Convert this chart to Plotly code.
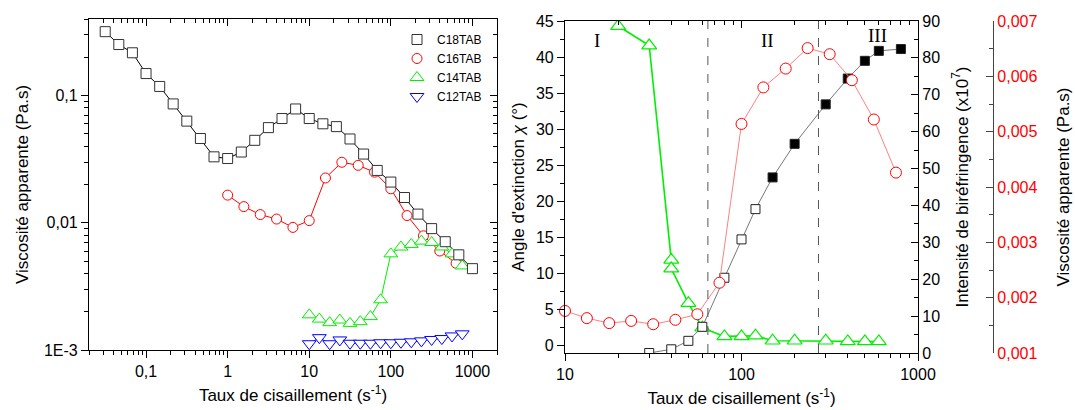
import math
import plotly.graph_objects as go

# ---------------- data: left panel (viscosity vs shear rate) ----------------
c18_x = [0.0316, 0.0464, 0.0681, 0.1, 0.147, 0.215, 0.316, 0.464, 0.681, 1, 1.47, 2.15, 3.16, 4.64,
         6.81, 10, 14.7, 21.5, 31.6, 46.4, 68.1, 100, 147, 215, 316, 464, 681, 1000]
c18_y = [0.318, 0.252, 0.217, 0.149, 0.118, 0.086, 0.063, 0.046, 0.033, 0.032, 0.036, 0.0445, 0.056, 0.066,
         0.0785, 0.066, 0.060, 0.057, 0.0456, 0.0347, 0.0258, 0.0209, 0.0158, 0.0117, 0.009, 0.0071, 0.0056, 0.00436]

c16_x = [1, 1.58, 2.51, 3.98, 6.31, 10, 15.8, 25.1, 39.8, 63.1, 100, 158, 251, 398, 631]
c16_y = [0.0165, 0.0134, 0.0116, 0.0107, 0.0092, 0.0104, 0.0225, 0.0299, 0.0283, 0.025, 0.0185, 0.0114,
         0.0079, 0.006, 0.0048]

c14_x = [10, 13.3, 17.8, 23.7, 31.6, 42.2, 56.2, 75, 100, 133, 178, 237, 316, 422, 562, 750]
c14_y = [0.00189, 0.00175, 0.00164, 0.00172, 0.00162, 0.00167, 0.00183, 0.00248, 0.0057, 0.00645, 0.00676,
         0.00718, 0.0070, 0.00646, 0.0057, 0.00458]

c12_x = [10, 13.3, 17.8, 23.7, 31.6, 42.2, 56.2, 75, 100, 133, 178, 237, 316, 422, 562, 750]
c12_y = [0.00112, 0.00125, 0.00112, 0.0012, 0.00113, 0.00113, 0.00113, 0.00114, 0.00114, 0.00115, 0.00116,
         0.00118, 0.00121, 0.00123, 0.00129, 0.00134]

left_series = ["C18TAB", "C16TAB", "C14TAB", "C12TAB"]
left_xticks = [0.1, 1, 10, 100, 1000]
left_xticktext = ["0,1", "1", "10", "100", "1000"]
left_yticks = [0.001, 0.01, 0.1]
left_yticktext = ["1E-3", "0,01", "0,1"]

# ---------------- data: right panel ----------------
angle_x = [20, 30, 40, 40, 50, 60, 80, 100, 120, 150, 200, 300, 400, 500, 600]
angle_y = [44.3, 41.6, 11.9, 10.7, 5.9, 2.5, 1.3, 1.3, 1.4, 0.7, 0.7, 0.7, 0.6, 0.6, 0.6]

biref_x = [30, 40, 50, 60, 80, 100, 120, 150, 200, 300, 400, 500, 600, 800]
biref_y = [0, 1, 3.3, 7.1, 20.4, 30.8, 39, 47.6, 56.7, 67.4, 74.4, 79.2, 81.9, 82.4]
biref_filled = [False] * 7 + [True] * 7

visc_x = [10, 13.3, 17.8, 23.7, 31.6, 42.2, 56.2, 75, 100, 133, 178, 237, 316, 422, 562, 750]
visc_y = [0.00176, 0.00163, 0.00154, 0.00158, 0.00152, 0.0016, 0.0017, 0.00227, 0.00514, 0.0058, 0.00614,
          0.00651, 0.0064, 0.00593, 0.00522, 0.00426]

right_xticks = [10, 100, 1000]
right_xticktext = ["10", "100", "1000"]
angle_ticks = list(range(0, 50, 5))
biref_ticks = list(range(0, 100, 10))
visc_ticks = [0.001, 0.002, 0.003, 0.004, 0.005, 0.006, 0.007]
visc_ticktext = ["0,001", "0,002", "0,003", "0,004", "0,005", "0,006", "0,007"]

region_bounds = [64.5, 273]
region_labels = ["I", "II", "III"]
region_label_x = [15.2, 140, 587]
region_label_y = [42.3, 42.3, 43.0]

# ---------------- styling ----------------
FONT = "Arial, Liberation Sans, sans-serif"
SERIF = "Times New Roman, Liberation Serif, serif"
BLACK = "#000000"


def minor_log(lo, hi):
    vals = []
    for e in range(-3, 4):
        for k in range(2, 10):
            v = k * 10 ** e
            if lo <= v <= hi:
                vals.append(v)
    return vals


fig = go.Figure()

left_data = [(c18_x, c18_y, "#333333", "square", 10),
             (c16_x, c16_y, "#ff0000", "circle", 10),
             (c14_x, c14_y, "#00ee00", "triangle-up", 12),
             (c12_x, c12_y, "#0000ff", "triangle-down", 12)]
line_cols = ["#000000", "#ff0000", "#00ee00", "#0000ff"]
for (xs, ys, col, sym, sz), lc in zip(left_data, line_cols):
    fig.add_trace(go.Scatter(x=xs, y=ys, mode="lines", line=dict(color=lc, width=1),
                             xaxis="x", yaxis="y", showlegend=False, hoverinfo="skip"))
for i in [1, 2, 3, 0]:
    xs, ys, col, sym, sz = left_data[i]
    fig.add_trace(go.Scatter(x=xs, y=ys, mode="markers", name=left_series[i], legendrank=i + 1,
                             marker=dict(symbol=sym, size=sz, color="white",
                                         line=dict(color=col, width=1)),
                             xaxis="x", yaxis="y"))

# dummy traces so the mirrored (inside-tick) axes are drawn
fig.add_trace(go.Scatter(x=[None], y=[None], xaxis="x3", yaxis="y", showlegend=False, hoverinfo="skip"))
fig.add_trace(go.Scatter(x=[None], y=[None], xaxis="x", yaxis="y3", showlegend=False, hoverinfo="skip"))
fig.add_trace(go.Scatter(x=[None], y=[None], xaxis="x4", yaxis="y2", showlegend=False, hoverinfo="skip"))

fig.add_trace(go.Scatter(x=angle_x, y=angle_y, mode="lines+markers",
                         line=dict(color="#00ee00", width=1.6),
                         marker=dict(symbol="triangle-up", size=13, color="white",
                                     line=dict(color="#00ee00", width=1.2)),
                         xaxis="x2", yaxis="y2", showlegend=False))
fig.add_trace(go.Scatter(x=biref_x, y=biref_y, mode="lines+markers",
                         line=dict(color="#777777", width=1),
                         marker=dict(symbol="square", size=9,
                                     color=[BLACK if f else "white" for f in biref_filled],
                                     line=dict(color="#222222", width=1)),
                         xaxis="x2", yaxis="y4", showlegend=False))
fig.add_trace(go.Scatter(x=visc_x, y=visc_y, mode="lines+markers",
                         line=dict(color="#ff8080", width=1),
                         marker=dict(symbol="circle", size=11, color="white",
                                     line=dict(color="#ff0000", width=1)),
                         xaxis="x2", yaxis="y5", showlegend=False, cliponaxis=False))

axis_common = dict(showline=True, linecolor=BLACK, linewidth=1.2, showgrid=False, zeroline=False,
                   automargin=False, tickcolor=BLACK, tickwidth=1.2,
                   tickfont=dict(family=FONT, size=16, color=BLACK))

L_DOM_X = [89 / 1075, 497 / 1075]
L_DOM_Y = [(410 - 350) / 410, (410 - 19) / 410]
R_DOM_X = [565 / 1075, 918 / 1075]
R_DOM_Y = [(410 - 353) / 410, (410 - 21) / 410]

lx_range = [math.log10(0.02), math.log10(2000)]
ly_range = [-3, math.log10(0.4)]
lx_minor = minor_log(0.02, 2000)
ly_minor = minor_log(0.001, 0.4)

title_font = dict(family=FONT, size=17, color=BLACK)


def mn(vals=None, ticks="outside", color=BLACK, **kw):
    d = dict(ticks=ticks, ticklen=4, tickcolor=color, tickwidth=1.2)
    if vals is not None:
        d.update(tickmode="array", tickvals=vals)
    d.update(kw)
    return d


fig.update_layout(
    width=1075, height=410, margin=dict(l=0, r=0, t=0, b=0, autoexpand=False),
    paper_bgcolor="white", plot_bgcolor="white",
    xaxis=dict(domain=L_DOM_X, anchor="y", type="log", range=lx_range,
               tickmode="array", tickvals=left_xticks, ticktext=left_xticktext,
               ticks="outside", ticklen=7, minor=mn(lx_minor),
               title=dict(text="Taux de cisaillement (s<sup>-1</sup>)", font=title_font, standoff=9),
               **axis_common),
    yaxis=dict(domain=L_DOM_Y, anchor="x", type="log", range=ly_range,
               tickmode="array", tickvals=left_yticks, ticktext=left_yticktext,
               ticks="outside", ticklen=7, minor=mn(ly_minor),
               title=dict(text="Viscosité apparente (Pa.s)", font=title_font, standoff=10),
               **axis_common),
    xaxis3=dict(overlaying="x", anchor="y", side="top", type="log", range=lx_range,
                tickmode="array", tickvals=left_xticks, showticklabels=False,
                ticks="inside", ticklen=7, minor=mn(lx_minor, "inside"), **axis_common),
    yaxis3=dict(overlaying="y", anchor="x", side="right", type="log", range=ly_range,
                tickmode="array", tickvals=left_yticks, showticklabels=False,
                ticks="inside", ticklen=7, minor=mn(ly_minor, "inside"), **axis_common),
    xaxis2=dict(domain=R_DOM_X, anchor="y2", type="log", range=[1, 3],
                tickmode="array", tickvals=right_xticks, ticktext=right_xticktext,
                ticks="outside", ticklen=7, minor=mn(minor_log(10, 1000)),
                title=dict(text="Taux de cisaillement (s<sup>-1</sup>)", font=title_font, standoff=9),
                **axis_common),
    xaxis4=dict(overlaying="x2", anchor="y2", side="top", type="log", range=[1, 3],
                tickmode="array", tickvals=right_xticks, showticklabels=False,
                ticks="inside", ticklen=7, minor=mn(minor_log(10, 1000), "inside"), **axis_common),
    yaxis2=dict(domain=R_DOM_Y, anchor="x2", range=[-1, 45],
                tickmode="array", tickvals=angle_ticks,
                ticks="outside", ticklen=7, minor=mn(None, dtick=2.5, tick0=0),
                title=dict(text="Angle d'extinction <i>χ</i> (°)", font=title_font, standoff=6),
                **axis_common),
    yaxis4=dict(overlaying="y2", anchor="x2", side="right", range=[0, 90],
                tickmode="array", tickvals=biref_ticks,
                ticks="inside", ticklen=7, minor=mn(None, "inside", dtick=5, tick0=0),
                title=dict(text="Intensité de biréfringence (x10<sup>7</sup>)", font=title_font, standoff=16),
                **axis_common),
    yaxis5=dict(overlaying="y2", anchor="free", position=993 / 1075, side="right",
                range=[0.001, 0.007],
                tickmode="array", tickvals=visc_ticks, ticktext=visc_ticktext,
                ticks="inside", ticklen=7,
                minor=mn(None, "inside", "#444444", dtick=0.0005, tick0=0.001),
                title=dict(text="Viscosité apparente (Pa.s)", font=title_font, standoff=20),
                showline=True, linecolor="#444444", linewidth=1.2, showgrid=False, zeroline=False,
                automargin=False, tickcolor="#444444", tickwidth=1.2,
                tickfont=dict(family=FONT, size=16, color="#ff0000")),
    legend=dict(x=397 / 1075, y=(410 - 25) / 410, xanchor="left", yanchor="top",
                bgcolor="rgba(0,0,0,0)", font=dict(family=FONT, size=12, color=BLACK),
                itemwidth=30, tracegroupgap=0),
    showlegend=True,
)

for xb in region_bounds:
    fig.add_shape(type="line", xref="x2", yref="y2 domain", x0=xb, x1=xb, y0=0, y1=1,
                  line=dict(color="#555555", width=1, dash="dash"))

for lab, lx, ly in zip(region_labels, region_label_x, region_label_y):
    fig.add_annotation(x=math.log10(lx), y=ly, xref="x2", yref="y2", text=lab, showarrow=False,
                       font=dict(family=SERIF, size=19, color=BLACK))

fig.write_html("out.html", config={"displayModeBar": False},
               post_script="document.body.style.margin='0';document.body.style.overflow='hidden';")
